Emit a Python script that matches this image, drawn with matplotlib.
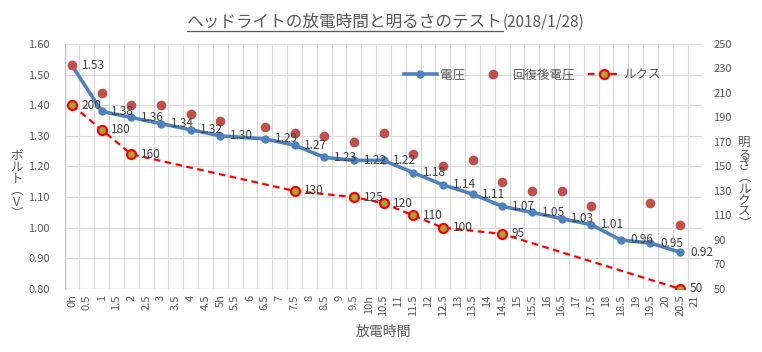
import matplotlib
matplotlib.use("Agg")
import matplotlib.pyplot as plt
from matplotlib.lines import Line2D

plt.rcParams['font.family'] = ['Noto Sans CJK JP', 'DejaVu Sans']

# categories (hours, every 30 min)
categories = ["0h", "0.5", "1", "1.5", "2", "2.5", "3", "3.5", "4", "4.5",
              "5h", "5.5", "6", "6.5", "7", "7.5", "8", "8.5", "9", "9.5",
              "10h", "10.5", "11", "11.5", "12", "12.5", "13", "13.5", "14", "14.5",
              "15", "15.5", "16", "16.5", "17", "17.5", "18", "18.5", "19", "19.5",
              "20", "20.5", "21"]

# 電圧
volt_times = ["0h", "1", "2", "3", "4", "5h", "6.5", "7.5", "8.5", "9.5", "10.5",
              "11.5", "12.5", "13.5", "14.5", "15.5", "16.5", "17.5", "18.5", "19.5", "20.5"]
volt_values = [1.53, 1.38, 1.36, 1.34, 1.32, 1.30, 1.29, 1.27, 1.23, 1.22, 1.22,
               1.18, 1.14, 1.11, 1.07, 1.05, 1.03, 1.01, 0.96, 0.95, 0.92]

# 回復後電圧
recov_times = ["0h", "1", "2", "3", "4", "5h", "6.5", "7.5", "8.5", "9.5", "10.5",
               "11.5", "12.5", "13.5", "14.5", "15.5", "16.5", "17.5", "19.5", "20.5"]
recov_values = [1.53, 1.44, 1.40, 1.40, 1.37, 1.35, 1.33, 1.31, 1.30, 1.28, 1.31,
                1.24, 1.20, 1.22, 1.15, 1.12, 1.12, 1.07, 1.08, 1.01]

# ルクス
lux_times = ["0h", "1", "2", "7.5", "9.5", "10.5", "11.5", "12.5", "14.5", "20.5"]
lux_values = [200, 180, 160, 130, 125, 120, 110, 100, 95, 50]

left_ticks = [0.80, 0.90, 1.00, 1.10, 1.20, 1.30, 1.40, 1.50, 1.60]
right_ticks = [50, 70, 90, 110, 130, 150, 170, 190, 210, 230, 250]

blue = "#4F81BD"
dot_red = "#C0504D"
lux_red = "#FF0000"
lux_fill = "#9BA83C"
txt = "#595959"
lbl = "#404040"
grid = "#D9D9D9"

vx = [categories.index(t) for t in volt_times]
rx = [categories.index(t) for t in recov_times]
lx = [categories.index(t) for t in lux_times]

fig = plt.figure(figsize=(7.62, 3.52), dpi=100)
ax = fig.add_axes([0.0848, 0.179, 0.837, 0.696])
ax2 = ax.twinx()
ax2.set_zorder(ax.get_zorder() + 1)
ax2.patch.set_visible(False)

ax.set_xlim(-0.5, len(categories) - 0.5)
ax.set_ylim(0.80, 1.60)
ax2.set_ylim(50, 250)

ax.set_xticks(range(len(categories)))
ax.set_xticklabels(categories, rotation=90, fontsize=8, color=txt)
ax.set_xticks([i - 0.5 for i in range(len(categories) + 1)], minor=True)
ax.tick_params(axis='x', which='both', length=0, pad=4)
ax.set_yticks(left_ticks)
ax.set_yticklabels([f"{v:.2f}" for v in left_ticks], fontsize=8, color=txt)
ax.tick_params(axis='y', length=0, pad=10.5)
ax2.set_yticks(right_ticks)
ax2.set_yticklabels([str(v) for v in right_ticks], fontsize=8, color=txt)
ax2.tick_params(axis='y', length=0, pad=8)

ax.grid(True, which='minor', axis='x', color=grid, lw=0.8)
ax.grid(True, which='major', axis='y', color=grid, lw=0.8)
ax.set_axisbelow(True)
for a in (ax, ax2):
    for s in a.spines.values():
        s.set_visible(False)
ax.axhline(0.80, color="#BFBFBF", lw=0.9, zorder=1)
ax.axvline(-0.5, color="#BFBFBF", lw=0.9, zorder=1)

# series
ax.plot(vx, volt_values, color=blue, lw=2.6, marker='o', ms=5, zorder=3)
ax.plot(rx, recov_values, ls='none', marker='o', ms=6, color=dot_red, zorder=4)
ax2.plot(lx, lux_values, color=lux_red, lw=1.6, ls=(0, (3, 2)), marker='o', ms=6.5,
         mfc=lux_fill, mec=lux_red, mew=1.6, zorder=3)

for x, v in zip(vx, volt_values):
    ax.annotate(f"{v:.2f}", (x, v), xytext=(7, 0), textcoords='offset points',
                ha='left', va='center', fontsize=8.5, color=lbl, zorder=6)
for x, v in zip(lx, lux_values):
    ax2.annotate(str(v), (x, v), xytext=(7, 0), textcoords='offset points',
                 ha='left', va='center', fontsize=8.5, color=lbl, zorder=6)

# legend
h1 = Line2D([], [], color=blue, lw=2.6, marker='o', ms=5)
h2 = Line2D([], [], ls='none', marker='o', ms=6, color=dot_red)
h3 = Line2D([], [], color=lux_red, lw=1.6, ls=(0, (3, 2)), marker='o', ms=6.5,
            mfc=lux_fill, mec=lux_red, mew=1.6)
leg = ax2.legend([h1, h2, h3], ["電圧", "回復後電圧", "ルクス"], loc='center right',
                 bbox_to_anchor=(0.935, 0.873), ncol=3, frameon=False, fontsize=9,
                 handlelength=2.6, handletextpad=0.25, columnspacing=1.0,
                 borderpad=0, borderaxespad=0)
for t in leg.get_texts():
    t.set_color(txt)

# axis titles
ax.set_xlabel("放電時間", fontsize=10, color=txt, labelpad=6)
fig.text(0.022, 0.475, "ボ\nル\nト\n︵\nV\n︶", ha='center', va='center', fontsize=9,
         color=txt, linespacing=0.85)
fig.text(0.977, 0.48, "明\nる\nさ\n︵\nル\nク\nス\n︶", ha='center', va='center',
         fontsize=9, color=txt, linespacing=0.85)

# title
t1 = fig.text(0.245, 0.925, "ヘッドライトの放電時間と明るさのテスト", fontsize=12,
              color=txt, ha='left', va='baseline')
fig.canvas.draw()
bb = t1.get_window_extent()
x_end = bb.x1 / fig.bbox.width
fig.text(x_end, 0.925, "(2018/1/28)", fontsize=11, color=txt, ha='left', va='baseline')
fig.add_artist(Line2D([bb.x0 / fig.bbox.width, x_end], [0.912, 0.912], color=txt, lw=0.9))

fig.savefig("out.png", dpi=100)
